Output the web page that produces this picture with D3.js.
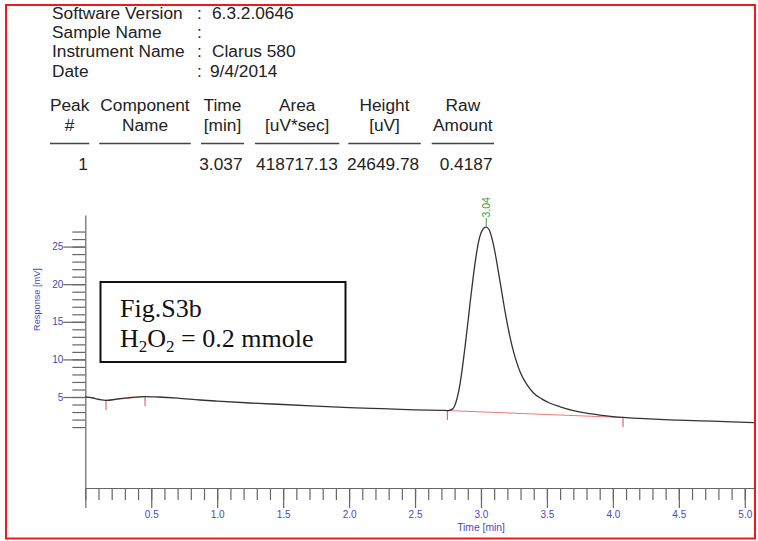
<!DOCTYPE html>
<html>
<head>
<meta charset="utf-8">
<script src="https://cdn.jsdelivr.net/npm/d3@7"></script>
<style>
  html, body { margin: 0; padding: 0; background: #fff; }
  svg { display: block; }
</style>
</head>
<body>
<svg id="chart" width="758" height="541"></svg>
<script>
// Run report header
const infoLabels = ["Software Version", "Sample Name", "Instrument Name", "Date"];
const infoValues = ["6.3.2.0646", "", "Clarus 580", "9/4/2014"];

// Peak table
const tableHead1 = ["Peak", "Component", "Time", "Area", "Height", "Raw"];
const tableHead2 = ["#", "Name", "[min]", "[uV*sec]", "[uV]", "Amount"];
const tableRow = ["1", "", "3.037", "418717.13", "24649.78", "0.4187"];

// Chromatogram trace: time [min] and response [mV]
const traceTime = [
  0.00, 0.05, 0.10, 0.157, 0.25, 0.35, 0.453, 0.55, 0.70, 0.87, 1.00, 1.25, 1.50, 1.75,
  2.00, 2.25, 2.50, 2.70, 2.75, 2.78, 2.80, 2.82, 2.84, 2.86, 2.88, 2.90, 2.92, 2.94,
  2.96, 2.98, 3.00, 3.02, 3.04, 3.06, 3.08, 3.10, 3.12, 3.14, 3.16, 3.18, 3.20, 3.23,
  3.26, 3.30, 3.35, 3.40, 3.46, 3.52, 3.60, 3.70, 3.80, 3.90, 4.00, 4.08, 4.20, 4.35,
  4.50, 4.75, 5.07
];
const traceResponse = [
  5.00, 4.90, 4.70, 4.55, 4.75, 4.95, 5.05, 5.00, 4.85, 4.60, 4.45, 4.20, 4.00, 3.80,
  3.60, 3.45, 3.30, 3.22, 3.20, 3.35, 3.80, 4.90, 6.60, 9.00, 11.8, 14.8, 17.9, 20.8,
  23.4, 25.5, 26.8, 27.45, 27.6, 27.3, 26.3, 24.8, 22.9, 20.8, 18.7, 16.6, 14.7, 12.2,
  10.2, 8.20, 6.60, 5.50, 4.75, 4.20, 3.70, 3.20, 2.85, 2.60, 2.40, 2.28, 2.15, 2.02,
  1.92, 1.78, 1.60
];

// Integration baseline events (start/end of each integrated region)
const eventTime = [0.157, 0.453, 2.745, 4.077];
const eventResponse = [4.55, 5.05, 3.20, 2.27];

// Peak apex annotation
const peakTime = [3.04];
const peakResponse = [27.6];
const peakLabel = ["3.04"];

// Axis ticks
const xMajorTicks = [0, 0.5, 1.0, 1.5, 2.0, 2.5, 3.0, 3.5, 4.0, 4.5, 5.0];
const yMajorTicks = [5, 10, 15, 20, 25];

// Note box text
const noteTitle = "Fig.S3b";

const svg = d3.select("#chart");
const sans = "'Liberation Sans', Arial, sans-serif";
const serif = "'Liberation Serif', 'Times New Roman', serif";
const axisBlue = "#4a48c4";

// Outer frame
svg.append("rect")
  .attr("x", 6).attr("y", 5).attr("width", 749).attr("height", 533.5)
  .attr("fill", "none").attr("stroke", "#f01818").attr("stroke-width", 2);

// ---- Header block ----
const info = svg.append("g").attr("font-family", sans).attr("font-size", 17.3).attr("fill", "#222");
infoLabels.forEach((lab, i) => {
  const yb = 19 + i * 19.2;
  info.append("text").attr("x", 52).attr("y", yb).text(lab);
  info.append("text").attr("x", 197).attr("y", yb).text(":");
  info.append("text").attr("x", i === 3 ? 210 : 212).attr("y", yb).text(infoValues[i]);
});

// ---- Peak table ----
const colSpans = [[50, 89.3], [99.3, 190.7], [201, 244], [255, 339.3], [348.3, 420.7], [431.7, 494]];
const table = svg.append("g").attr("font-family", sans).attr("font-size", 17.3).attr("fill", "#222");
colSpans.forEach((s, i) => {
  const cx = (s[0] + s[1]) / 2;
  table.append("text").attr("x", cx).attr("y", 111).attr("text-anchor", "middle").text(tableHead1[i]);
  table.append("text").attr("x", cx).attr("y", 131).attr("text-anchor", "middle").text(tableHead2[i]);
  table.append("line").attr("x1", s[0]).attr("x2", s[1]).attr("y1", 143.5).attr("y2", 143.5)
    .attr("stroke", "#444").attr("stroke-width", 1.3);
  table.append("text").attr("x", s[1] - 1.5).attr("y", 170).attr("text-anchor", "end").text(tableRow[i]);
});

// ---- Chromatogram ----
const x = d3.scaleLinear().domain([0, 5.07]).range([85.3, 754]);
const y = d3.scaleLinear().domain([-7.1, 29.2]).range([488, 215]);

const xMinor = d3.range(0, 51).map(i => i / 10);
const yMinor = d3.range(1, 28);

function styleAxis(g) {
  g.selectAll("line").attr("stroke", "#666").attr("stroke-width", 1.2);
  g.selectAll("path").attr("stroke", "#666").attr("stroke-width", 1.2);
  g.selectAll("text").attr("fill", axisBlue).attr("font-family", sans).attr("font-size", 10);
}

// X axis: minor then major ticks
svg.append("g").attr("transform", "translate(0,488)")
  .call(d3.axisBottom(x).tickValues(xMinor).tickSize(12).tickSizeOuter(0).tickFormat(""))
  .call(styleAxis);
svg.append("g").attr("transform", "translate(0,488)")
  .call(d3.axisBottom(x).tickValues(xMajorTicks).tickSize(20).tickSizeOuter(0).tickPadding(3)
    .tickFormat(d => d === 0 ? "" : d3.format(".1f")(d)))
  .call(styleAxis)
  .call(g => g.select(".domain").remove());

// Y axis: minor then major ticks
svg.append("g").attr("transform", "translate(85.3,0)")
  .call(d3.axisLeft(y).tickValues(yMinor).tickSize(13).tickSizeOuter(0).tickFormat(""))
  .call(styleAxis);
svg.append("g").attr("transform", "translate(85.3,0)")
  .call(d3.axisLeft(y).tickValues(yMajorTicks).tickSize(22).tickSizeOuter(0).tickPadding(0))
  .call(styleAxis)
  .call(g => g.select(".domain").remove());

// Axis titles
svg.append("text")
  .attr("transform", "translate(40,299.5) rotate(-90)")
  .attr("text-anchor", "middle")
  .attr("font-family", sans).attr("font-size", 9.2).attr("fill", axisBlue)
  .text("Response [mV]");
svg.append("text")
  .attr("x", 481).attr("y", 531)
  .attr("text-anchor", "middle")
  .attr("font-family", sans).attr("font-size", 10.3).attr("fill", axisBlue)
  .text("Time [min]");

// Integration baselines (red) between event pairs
const baseline = svg.append("g").attr("stroke", "#e8585a").attr("fill", "none");
for (let i = 0; i < eventTime.length; i += 2) {
  baseline.append("line")
    .attr("x1", x(eventTime[i])).attr("y1", y(eventResponse[i]))
    .attr("x2", x(eventTime[i + 1])).attr("y2", y(eventResponse[i + 1]))
    .attr("stroke-width", 1).attr("opacity", 0.8);
}
eventTime.forEach((t, i) => {
  baseline.append("line")
    .attr("x1", x(t)).attr("x2", x(t))
    .attr("y1", y(eventResponse[i])).attr("y2", y(eventResponse[i]) + 9.5)
    .attr("stroke-width", 1.1);
});

// Trace
const trace = traceTime.map((t, i) => [t, traceResponse[i]]);
svg.append("path")
  .datum(trace)
  .attr("fill", "none")
  .attr("stroke", "#333")
  .attr("stroke-width", 1.3)
  .attr("d", d3.line().x(d => x(d[0])).y(d => y(d[1])).curve(d3.curveMonotoneX));

// Peak apex label
peakTime.forEach((t, i) => {
  const px = x(t), py = y(peakResponse[i]);
  svg.append("line").attr("x1", px).attr("x2", px).attr("y1", py).attr("y2", py - 9)
    .attr("stroke", "#3c9a3c").attr("stroke-width", 1);
  svg.append("text")
    .attr("transform", `translate(${px + 3.8},${py - 9.5}) rotate(-90)`)
    .attr("font-family", sans).attr("font-size", 10.5).attr("fill", "#3c9a3c")
    .text(peakLabel[i]);
});

// Note box
const box = svg.append("g");
box.append("rect")
  .attr("x", 100.5).attr("y", 282).attr("width", 245).attr("height", 80)
  .attr("fill", "#fff").attr("stroke", "#111").attr("stroke-width", 2);
box.append("text")
  .attr("x", 120).attr("y", 316.5)
  .attr("font-family", serif).attr("font-size", 26).attr("fill", "#111")
  .text(noteTitle);
const formula = box.append("text")
  .attr("x", 120).attr("y", 346.5)
  .attr("font-family", serif).attr("font-size", 26).attr("fill", "#111");
formula.append("tspan").text("H");
formula.append("tspan").attr("font-size", 17).attr("dy", 5).text("2");
formula.append("tspan").attr("dy", -5).text("O");
formula.append("tspan").attr("font-size", 17).attr("dy", 5).text("2");
formula.append("tspan").attr("dy", -5).text(" = 0.2 mmole");
</script>
</body>
</html>
